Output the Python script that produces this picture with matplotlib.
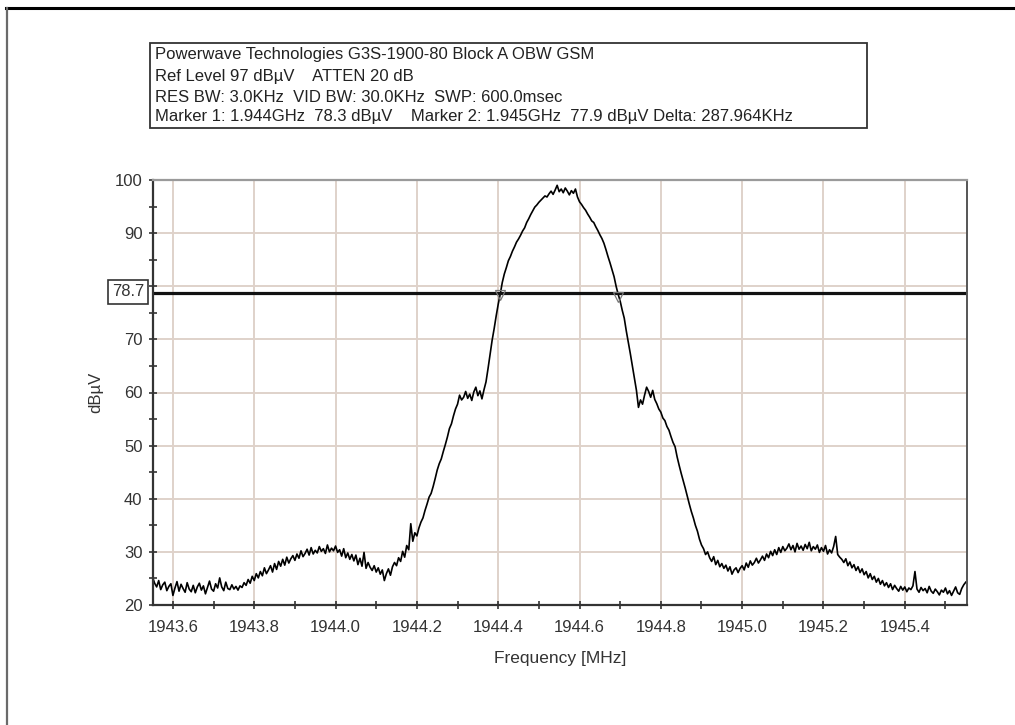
import numpy as np
import matplotlib
matplotlib.use("Agg")
import matplotlib.pyplot as plt
from matplotlib.lines import Line2D
from matplotlib.ticker import MultipleLocator, FixedLocator

plt.rcParams['font.family'] = ['Liberation Sans', 'DejaVu Sans']

# ---- data ----
freq_start = 1943.55
freq_step = 0.005
level_dbuv = [
    25.2, 24.1, 23.4, 24.6, 22.9, 23.8, 24.3, 22.7, 23.5, 24.0,
    21.8, 23.2, 24.4, 22.6, 23.9, 23.1, 22.4, 24.2, 23.0, 22.5,
    23.7, 22.3, 23.4, 24.1, 22.8, 23.6, 22.1, 23.3, 24.5, 23.0,
    22.6, 24.0, 23.2, 25.1, 23.4, 22.7, 24.3, 23.1, 22.9, 23.8,
    23.0, 23.5, 22.8, 23.6, 23.3, 24.2, 23.7, 24.8, 24.1, 25.4,
    24.6, 25.9, 25.1, 26.3, 25.5, 27.0, 25.9, 26.6, 27.4, 26.2,
    27.8, 26.7, 28.2, 27.3, 28.6, 27.5, 29.0, 27.9, 28.7, 29.3,
    28.4, 29.6, 28.8, 30.2, 29.1, 29.7, 30.5, 29.4, 30.8, 29.6,
    30.3, 29.8, 31.0, 30.1, 30.6, 29.7, 31.3, 30.0, 30.7, 30.2,
    31.1, 29.9, 30.4, 29.2, 30.6, 28.9, 29.8, 28.6, 29.5, 28.3,
    29.4, 27.6, 28.8, 27.3, 29.9, 26.9, 28.0, 27.1, 26.5, 27.4,
    26.2, 27.0, 25.8, 26.6, 24.6, 25.9, 26.8, 25.6, 27.2, 28.0,
    27.4, 28.9, 28.2, 30.1, 29.0, 31.2, 30.4, 35.3, 32.0, 33.6,
    33.0, 34.5, 35.6, 36.4, 37.8, 39.0, 40.3, 41.0, 42.3, 43.8,
    45.4, 46.6, 47.5, 48.9, 50.2, 51.6, 53.2, 54.1, 55.6, 56.9,
    57.8, 59.5, 58.6, 59.1, 60.2, 58.9, 59.7, 58.5, 60.1, 61.0,
    59.4, 60.3, 58.8, 60.5, 62.0, 64.5, 67.2, 69.8, 72.0, 74.4,
    76.6, 78.5, 80.7, 82.3, 83.5, 84.8, 85.6, 86.6, 87.4, 88.3,
    88.9, 89.6, 90.4, 91.0, 92.0, 92.7, 93.5, 94.2, 94.9, 95.3,
    95.8, 96.2, 96.6, 97.0, 96.8, 97.4, 97.9, 97.3, 98.1, 99.0,
    97.8, 98.3, 97.6, 98.5, 97.9, 97.2, 98.0, 97.5, 98.3, 96.8,
    95.9, 95.4, 94.8, 94.3, 93.6, 93.0, 92.3, 92.0, 91.2, 90.5,
    89.7, 89.0, 88.1, 86.9, 85.6, 84.4, 83.1, 81.8, 80.0, 78.5,
    77.2, 75.5, 74.0, 71.6, 69.5, 67.3, 65.0, 62.6, 60.4, 57.2,
    58.6, 57.8, 59.5, 61.0, 60.2, 59.1, 60.4, 58.7, 57.9, 56.9,
    56.3, 55.2, 54.7, 53.6, 52.9, 51.7, 50.6, 49.8, 47.9, 46.3,
    44.8, 43.4, 42.0, 40.5, 39.0, 37.6, 36.4, 35.0, 33.9, 32.4,
    31.3, 30.6, 29.5, 30.0, 28.9, 28.2, 29.1, 27.6, 28.4, 27.2,
    27.8, 26.9, 27.5, 26.4, 27.2, 25.8, 26.6, 27.0, 26.1, 26.9,
    27.4, 26.6, 27.9, 27.1, 28.3, 27.5, 28.0, 28.8, 27.9, 28.5,
    29.2, 28.4, 29.6, 28.9, 30.1, 29.3, 30.4, 29.5, 30.8, 29.9,
    31.0, 30.2, 30.7, 31.5, 30.4, 31.2, 30.0, 31.6, 30.5, 31.1,
    30.3, 31.4, 30.6, 31.8, 30.2, 31.0, 30.5, 31.3, 29.9, 30.8,
    30.1, 31.2, 29.6, 30.4, 29.8, 31.0, 32.9, 29.5, 29.0, 28.6,
    28.0, 28.7, 27.4, 28.1, 27.0, 27.6, 26.5, 27.2, 26.1, 26.8,
    25.7, 26.3, 25.1, 25.9, 24.8, 25.4, 24.3, 25.0, 23.9, 24.6,
    23.6, 24.2, 23.3, 24.0, 22.9, 23.7, 23.1, 22.6, 23.5, 22.8,
    23.4, 22.5, 23.2, 22.9, 23.6, 26.3, 23.0, 22.4, 23.3, 22.7,
    23.1, 22.3, 23.5, 22.6, 22.2, 23.0, 22.5, 21.9, 22.8, 22.4,
    23.2, 22.1, 22.7, 21.8, 22.6, 23.4, 22.3, 22.0, 23.1, 23.8,
    24.3,
]
freq_mhz = freq_start + freq_step * np.arange(len(level_dbuv))

threshold = 78.7
marker_freqs = [1944.405, 1944.695]
marker_levels = [78.3, 77.9]

x_major = [1943.6, 1943.8, 1944.0, 1944.2, 1944.4, 1944.6, 1944.8, 1945.0, 1945.2, 1945.4]
x_labels = ["1943.6", "1943.8", "1944.0", "1944.2", "1944.4", "1944.6", "1944.8", "1945.0", "1945.2", "1945.4"]
y_major = [20, 30, 40, 50, 60, 70, 80, 90, 100]
y_labels = ["20", "30", "40", "50", "60", "70", "", "90", "100"]

header_lines = [
    "Powerwave Technologies G3S-1900-80 Block A OBW GSM",
    "Ref Level 97 dB\u00b5V    ATTEN 20 dB",
    "RES BW: 3.0KHz  VID BW: 30.0KHz  SWP: 600.0msec",
    "Marker 1: 1.944GHz  78.3 dB\u00b5V    Marker 2: 1.945GHz  77.9 dB\u00b5V Delta: 287.964KHz",
]

# ---- figure ----
W, H = 1015, 725
fig = plt.figure(figsize=(W / 100, H / 100), dpi=100)
fig.patch.set_facecolor('white')

def fx(px):
    return px / W

def fy(py):
    return 1 - py / H

# outer frame lines
fig.add_artist(Line2D([fx(6), fx(1015)], [fy(8), fy(8)], color='black', lw=2.2, transform=fig.transFigure))
fig.add_artist(Line2D([fx(7), fx(7)], [fy(8), fy(725)], color='#6a6a6a', lw=1.6, transform=fig.transFigure))

ax = fig.add_axes([fx(153), fy(605), fx(967) - fx(153), fy(180) - fy(605)])
ax.set_xlim(1943.551, 1945.553)
ax.set_ylim(20, 100)

grid_color = '#dfd2ca'
ax.xaxis.set_major_locator(FixedLocator(x_major))
ax.xaxis.set_minor_locator(MultipleLocator(0.1))
ax.yaxis.set_major_locator(FixedLocator(y_major))
ax.yaxis.set_minor_locator(MultipleLocator(5))
ax.set_xticklabels(x_labels)
ax.set_yticklabels(y_labels)
ax.grid(True, which='major', color=grid_color, lw=1.4)
ax.set_axisbelow(True)

ax.tick_params(axis='both', which='both', direction='inout', color='#333333', width=1.2,
               length=6, labelsize=12, labelcolor='#333333')
ax.tick_params(axis='x', pad=8)
ax.tick_params(axis='y', pad=4.5)

for side in ['left', 'bottom']:
    ax.spines[side].set_color('#333333')
    ax.spines[side].set_linewidth(1.6)
ax.spines['top'].set_color('#9a9a9a')
ax.spines['top'].set_linewidth(1.6)
ax.spines['right'].set_color('#555555')
ax.spines['right'].set_linewidth(1.4)

# trace
ax.plot(freq_mhz, level_dbuv, color='black', lw=1.2)

# threshold line
ax.axhline(threshold, color='#111111', lw=2.3)

# markers
ax.plot(marker_freqs, marker_levels, linestyle='none', marker='v', markersize=7,
        markerfacecolor='none', markeredgecolor='#777777', markeredgewidth=0.9)

ax.set_xlabel("Frequency [MHz]", fontsize=12.5, color='#333333', labelpad=11)
ax.set_ylabel("dB\u00b5V", fontsize=12, color='#333333', labelpad=8)

# threshold label box
fig.text(fx(128), fy(292), "78.7", fontsize=12, color='#333333', ha='center', va='center',
         bbox=dict(boxstyle='square,pad=0.25', facecolor='white', edgecolor='#333333', lw=1.2))

# header box
hb = plt.Rectangle((fx(150), fy(128)), fx(867) - fx(150), fy(43) - fy(128), transform=fig.transFigure,
                   facecolor='white', edgecolor='#333333', lw=1.3)
fig.add_artist(hb)
line_y = [55, 76, 97, 117]
for txt, yy in zip(header_lines, line_y):
    fig.text(fx(155), fy(yy), txt, fontsize=12, color='#222222', ha='left', va='center')

fig.savefig("out.png", dpi=100)
